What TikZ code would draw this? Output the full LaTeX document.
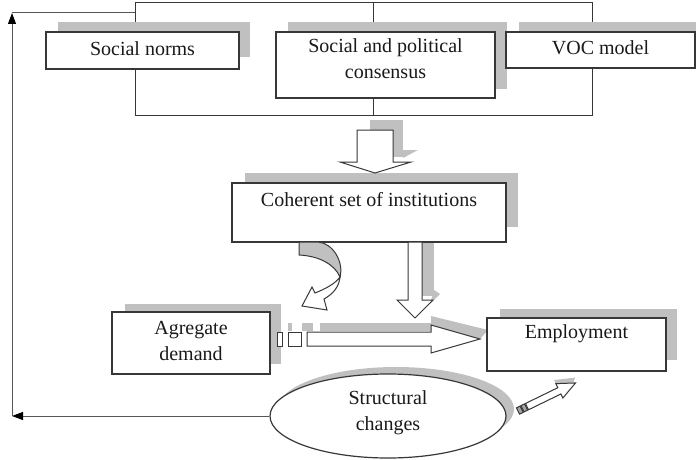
\documentclass[tikz,border=0pt]{standalone}
\usepackage{fontspec}
\setmainfont{Liberation Serif}
\usetikzlibrary{arrows.meta,shapes.geometric}
\definecolor{shd}{RGB}{192,192,192}
\definecolor{ln}{RGB}{55,55,55}
\pgfdeclarelayer{bg}
\pgfdeclarelayer{sh}
\pgfsetlayers{bg,sh,main}
\begin{document}
\begin{tikzpicture}[x=1pt,y=-1pt,
 box/.style={draw=ln,fill=white,line width=1.2pt,inner sep=0pt},
 oval/.style={ellipse,draw=ln,fill=white,line width=1.2pt,inner sep=0pt},
 txt/.style={font=\fontsize{20}{26}\selectfont,align=center,text=black!90,inner sep=0pt},
 conn/.style={draw=ln,line width=1pt},
 fb/.style={draw=ln!85,line width=0.9pt},
 tip/.style={-{Triangle[length=11pt,width=8pt,color=black]}},
 blk/.style={draw=ln,fill=white,line width=1pt,line join=miter},
 ]
\useasboundingbox (0,0) rectangle (696,460);

% boxes
\node[box, minimum width=193pt, minimum height=37pt] (sn) at (142.5,50.5) {};
\node[txt] (snt) at (142.5,49) {Social norms};
\node[box, minimum width=219pt, minimum height=66pt] (cons) at (385.5,65) {};
\node[txt] (const) at (385.5,59) {Social and political\\consensus};
\node[box, minimum width=189pt, minimum height=36pt] (voc) at (600.5,50) {};
\node[txt] (voct) at (600.5,48) {VOC model};
\node[box, minimum width=274pt, minimum height=59pt] (coh) at (369,212.5) {};
\node[txt] (coht) at (369,200) {Coherent set of institutions};
\node[box, minimum width=158pt, minimum height=62pt] (agr) at (191,343) {};
\node[txt] (agrt) at (191,341) {Agregate\\demand};
\node[box, minimum width=179pt, minimum height=53pt] (emp) at (576.5,344.5) {};
\node[txt] (empt) at (576.5,334) {Employment};
\node[oval, minimum width=236pt, minimum height=84pt] (sc) at (388,416) {};
\node[txt] (sct) at (388,413) {Structural\\changes};

% connector coordinates
\coordinate (tl) at (135,3); \coordinate (tm) at (373,3); \coordinate (tr) at (592,3);
\coordinate (bl) at (135,115); \coordinate (bm) at (373,115); \coordinate (br) at (592,115);
\coordinate (fbtop) at (12,12); \coordinate (fbbot) at (12,416); \coordinate (fbtip) at (12,13);

\begin{pgfonlayer}{bg}
\draw[conn] (sn.north -| tl) -- (tl) -- (tr) -- (voc.north -| tr);
\draw[conn] (tm) -- (cons.north -| tm);
\draw[conn] (sn.south -| bl) -- (bl) -- (br) -- (voc.south -| br);
\draw[conn] (cons.south -| bm) -- (bm);
\draw[fb] (fbtop) -- (fbtop -| tl);
\end{pgfonlayer}

% feedback arrows
\draw[fb,tip] (sc.west) -- (fbbot);
\draw[fb,tip] (fbbot) -- (fbtip);

% shadows
\begin{pgfonlayer}{sh}
\fill[shd] (58,22) rectangle (250,57);
\fill[shd] (288,22) rectangle (507,89);
\fill[shd] (519,22) rectangle (700,57);
\fill[shd] (245,173) rectangle (518,227);
\fill[shd] (125,304) rectangle (281,364);
\fill[shd] (500,309) rectangle (677,360);
\fill[shd] ([shift={(8,-7)}]sc.center) ellipse [x radius=118pt, y radius=42pt];
% block arrow shadows
\fill[shd] (370,120) rectangle (403,157);
\fill[shd] (403,150) -- (418,150) -- (403,158) -- cycle;
\fill[shd] (422,236) rectangle (434,296);
\fill[shd] (434,290) -- (440,294) -- (430,304) -- cycle;
\fill[shd] (320,323) rectangle (431,331);
\fill[shd] (288,323) rectangle (292,331);
\fill[shd] (302,323) rectangle (313,331);
\fill[shd] (431,316) -- (488,330) -- (480,339) -- (431,326) -- cycle;
\end{pgfonlayer}

% block arrow: consensus -> institutions
\filldraw[blk] (357,130) -- (393,130) -- (393,162) -- (411,162) -- (375,173) -- (340,162) -- (357,162) -- cycle;

% block arrow: institutions -> long arrow
\filldraw[blk] (408,242) -- (422,242) -- (422,300) -- (433,300) -- (415,318) -- (397,300) -- (408,300) -- cycle;

% curved arrow: institutions -> aggregate demand
\filldraw[blk,fill=shd] (299,242) -- (299,255) .. controls (320,256) and (335,265) .. (340,277) .. controls (344,262) and (333,243) .. (318,242) -- cycle;
\filldraw[blk] (340,277) .. controls (339,287) and (333,294) .. (324,299) -- (327,310) -- (302,306) -- (312,287) -- (315,293) .. controls (325,289) and (335,284) .. (340,277) -- cycle;

% long arrow: demand -> employment
\filldraw[blk] (277,332) rectangle (282,346);
\filldraw[blk] (288,332) rectangle (301,346);
\filldraw[blk] (307,332) -- (431,332) -- (431,325) -- (480,339) -- (431,353) -- (431,346) -- (307,346) -- cycle;

% small arrow: structural changes -> employment
\begin{scope}[shift={(518,411)},rotate=26]
\fill[shd] (46,-12) -- (66,-5) -- (62,-1) -- (46,-7) -- cycle;
\filldraw[blk] (10,-3.5) -- (46,-3.5) -- (46,-8) -- (64,0) -- (46,8) -- (46,3.5) -- (10,3.5) -- cycle;
\filldraw[blk,fill=ln!45] (0,-3.5) rectangle (4,3.5);
\filldraw[blk,fill=ln!45] (5,-3.5) rectangle (9,3.5);
\end{scope}
\end{tikzpicture}
\end{document}
